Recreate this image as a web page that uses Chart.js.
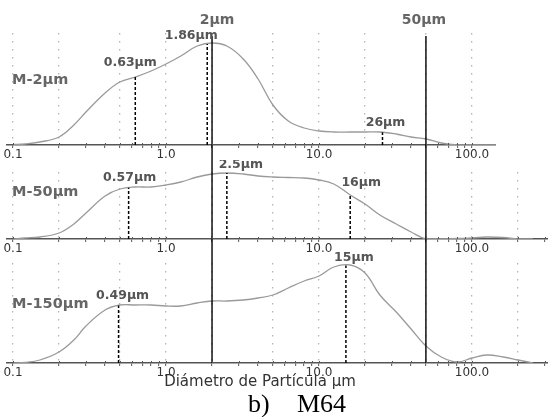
<!DOCTYPE html>
<html lang="es">
<head>
<meta charset="utf-8">
<title>M64</title>
<script src="https://cdn.jsdelivr.net/npm/chart.js@4.4.1/dist/chart.umd.min.js"></script>
<style>
  html, body { margin: 0; padding: 0; background: #fff; }
  #wrap { position: relative; width: 548px; height: 417px; overflow: hidden; }
  canvas { position: absolute; left: 0; }
  #c1 { top: 0; }
  #c2 { top: 160px; }
  #c3 { top: 246px; }
  .titulo { position: absolute; top: 374px; left: 0; width: 520px; text-align: center;
            font: 15px "DejaVu Sans"; line-height: 15px; color: #333; }
  .cap { position: absolute; top: 391px; font: 26px "Liberation Serif"; line-height: 26px; color: #000; }
</style>
</head>
<body>
<div id="wrap">
  <canvas id="c1" width="496" height="160"></canvas>
  <canvas id="c2" width="548" height="94"></canvas>
  <canvas id="c3" width="548" height="132"></canvas>
  <div class="titulo">Diámetro de Partícula µm</div>
  <div class="cap" style="left:248px">b)</div>
  <div class="cap" style="left:297px">M64</div>
</div>
<script>
// diámetros (µm) donde se leen las tres curvas
const diametros = [0.1, 0.12, 0.15, 0.2, 0.25, 0.3, 0.4, 0.5, 0.63, 0.8, 1.0, 1.25, 1.6, 2.0, 2.5, 3.2, 4.0, 5.0,
  6.3, 8, 10, 12.5, 16, 20, 25, 32, 40, 50, 63, 80, 100, 125, 160, 200, 250];

const m2 = [0.5, 1, 3, 8, 20, 33, 52, 63, 68, 74, 81, 89, 99, 102, 99, 86, 66, 40,
  24, 17, 14, 13, 13, 13, 13, 11, 8, 6, 2, 0, 0, 0, 0, 0, 0];
const m50 = [0, 1, 2, 6, 15, 26, 43, 50, 52, 52, 54, 57, 62, 65, 66, 65, 63, 62,
  61.5, 61, 59, 55, 44, 35, 24, 15, 7, 0, 0, 0.5, 1, 2, 1.5, 0, 0];
const m150 = [0, 0.5, 3, 11, 23, 37, 53, 58, 58, 58, 57, 57, 60, 62, 62, 63, 65, 68,
  75, 82, 87, 96, 98, 90, 68, 51, 34, 17, 6, 1, 5, 8, 6, 3, 0];

// tamaños marcados con línea de trazos
const marcasM2 = [0.63, 1.86, 26];
const marcasM50 = [0.57, 2.5, 16];
const marcasM150 = [0.49, 15];

// cortes 2 µm y 50 µm
const cortes = [2, 50];

const decadas = [0.1, 1, 10, 100];
const decadasTxt = ["0.1", "1.0", "10.0", "100.0"];

const XMIN = 0.0914;
const FUENTE = '"DejaVu Sans", sans-serif';

const ticksEje = [0.1, 1, 10, 100].flatMap((d) =>
  [1, 2, 3, 4, 5, 6, 7, 8, 9].map((k) => +(d * k).toPrecision(3)),
);

function esGuia(v) {
  const m = +(v / Math.pow(10, Math.floor(Math.log10(v) + 1e-9))).toPrecision(3);
  return m === 1 || m === 2 || m === 5;
}

// altura de la curva en un diámetro dado (interpolación en escala log)
function alturaEn(serie, v) {
  for (let i = 1; i < serie.length; i++) {
    if (serie[i].x >= v) {
      const a = serie[i - 1];
      const b = serie[i];
      const t = Math.log(v / a.x) / Math.log(b.x / a.x);
      return a.y + t * (b.y - a.y);
    }
  }
  return 0;
}

function anotaciones(cfg) {
  return {
    id: "anotaciones",
    afterDatasetsDraw(chart) {
      const ctx = chart.ctx;
      const sx = chart.scales.x;
      const sy = chart.scales.y;
      const area = chart.chartArea;
      const serie = chart.data.datasets[0].data;
      ctx.save();

      // líneas continuas de corte
      ctx.strokeStyle = "#000";
      ctx.lineWidth = 1.4;
      const hasta = cfg.corteHasta == null ? area.bottom : cfg.corteHasta;
      cortes.forEach((c) => {
        const x = sx.getPixelForValue(c);
        ctx.beginPath();
        ctx.moveTo(x, cfg.corteDesde);
        ctx.lineTo(x, hasta);
        ctx.stroke();
      });
      if (cfg.cortesTxt) {
        ctx.fillStyle = "#666";
        ctx.font = "bold 14px " + FUENTE;
        ctx.textAlign = "center";
        ctx.textBaseline = "middle";
        cortes.forEach((c, i) => {
          ctx.fillText(c + "µm", sx.getPixelForValue(c) + cfg.cortesDx[i], 20);
        });
      }

      // líneas de trazos hasta la curva, con su valor
      ctx.setLineDash([3, 2]);
      ctx.lineWidth = 1.5;
      ctx.font = "bold 12.5px " + FUENTE;
      ctx.fillStyle = "#555";
      ctx.textAlign = "center";
      ctx.textBaseline = "middle";
      cfg.marcas.forEach((m, i) => {
        const x = sx.getPixelForValue(m);
        const yTop = sy.getPixelForValue(alturaEn(serie, m));
        ctx.beginPath();
        ctx.moveTo(x, area.bottom);
        ctx.lineTo(x, yTop);
        ctx.stroke();
        ctx.fillText(m + "µm", x + cfg.dx[i], yTop + cfg.dy[i]);
      });
      ctx.setLineDash([]);

      // marcas cortas que cruzan el eje
      ctx.strokeStyle = "#555";
      ctx.lineWidth = 1;
      sx.ticks.forEach((t) => {
        const x = Math.round(sx.getPixelForValue(t.value)) + 0.5;
        ctx.beginPath();
        ctx.moveTo(x, area.bottom - 2);
        ctx.lineTo(x, area.bottom);
        ctx.stroke();
      });

      // nombre de la muestra
      ctx.font = "bold 14.5px " + FUENTE;
      ctx.fillStyle = "#666";
      ctx.textAlign = "left";
      ctx.fillText(cfg.nombre, 12, cfg.nombreY);
      ctx.restore();
    },
  };
}

function crearPanel(cfg) {
  const ctx = document.getElementById(cfg.id).getContext("2d");
  return new Chart(ctx, {
    type: "line",
    data: {
      datasets: [
        {
          data: diametros.map((d, i) => ({ x: d, y: cfg.valores[i] })),
          borderColor: "#9a9a9a",
          borderWidth: 1.3,
          pointRadius: 0,
          fill: false,
          tension: 0.4,
        },
      ],
    },
    options: {
      responsive: false,
      animation: false,
      layout: { padding: { left: 7, top: cfg.padTop, right: 0, bottom: 0 } },
      plugins: { legend: { display: false }, tooltip: { enabled: false } },
      scales: {
        x: {
          type: "logarithmic",
          bounds: "data",
          min: XMIN,
          max: cfg.xMax,
          afterBuildTicks: (s) => {
            s.ticks = ticksEje.filter((v) => v >= s.min && v <= s.max).map((v) => ({ value: v }));
          },
          afterFit: (s) => {
            s.height = 15;
          },
          ticks: {
            autoSkip: false,
            maxRotation: 0,
            padding: 0,
            color: "#333",
            font: { family: "DejaVu Sans", size: 12 },
            callback: (v) => {
              const i = decadas.indexOf(v);
              return i >= 0 ? decadasTxt[i] : "";
            },
          },
          grid: {
            color: (c) => (c.tick && esGuia(c.tick.value) ? "#b4b4b4" : "rgba(0,0,0,0)"),
            lineWidth: 1.3,
            tickLength: 3,
            tickColor: "#555",
            tickWidth: 1,
          },
          border: { color: "#555", width: 1.5, dash: [1.5, 6.5] },
        },
        y: { display: false, min: 0, max: cfg.yMax },
      },
    },
    plugins: [anotaciones(cfg)],
  });
}

crearPanel({
  id: "c1", valores: m2, yMax: 112, xMax: 143.5, padTop: 33,
  marcas: marcasM2, dx: [-5, -16, 3], dy: [-14, -8, -10],
  nombre: "M-2µm", nombreY: 80,
  corteDesde: 36, corteHasta: 160, cortesTxt: true, cortesDx: [5, -2],
});

crearPanel({
  id: "c2", valores: m50, yMax: 67, xMax: 314, padTop: 12,
  marcas: marcasM50, dx: [1, 14, 11], dy: [-10, -8, -12],
  nombre: "M-50µm", nombreY: 32,
  corteDesde: 0, corteHasta: 86,
});

crearPanel({
  id: "c3", valores: m150, yMax: 100, xMax: 314, padTop: 17,
  marcas: marcasM150, dx: [4, 8], dy: [-10, -8],
  nombre: "M-150µm", nombreY: 58,
  corteDesde: 0, corteHasta: null,
});
</script>
</body>
</html>
